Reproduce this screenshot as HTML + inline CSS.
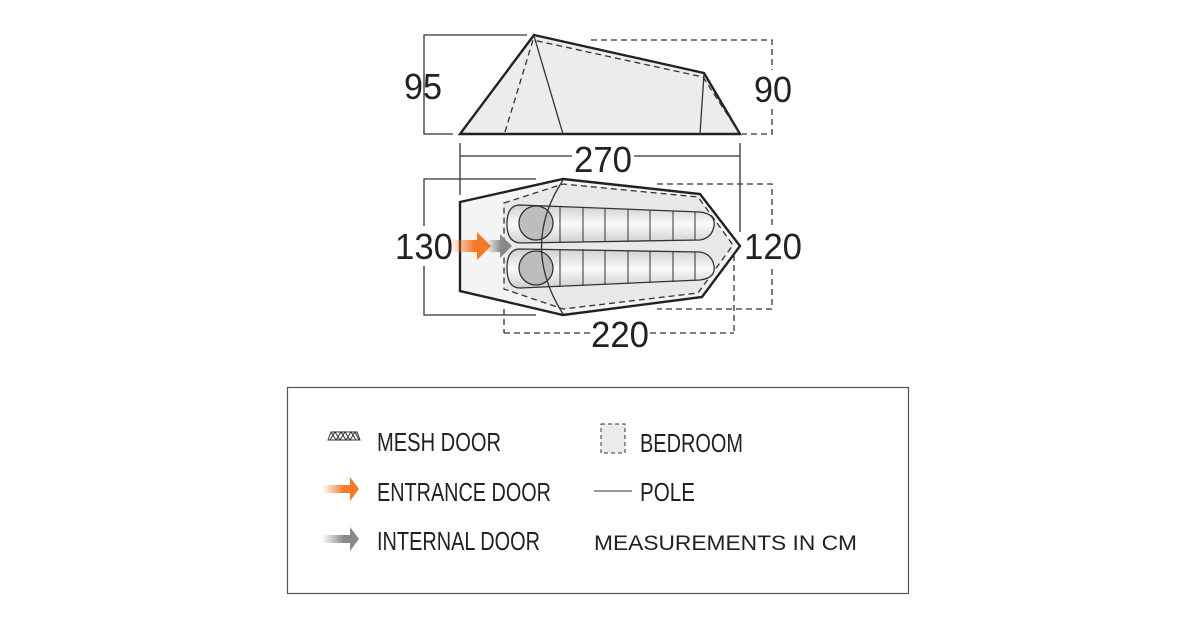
<!DOCTYPE html>
<html><head><meta charset="utf-8"><style>
html,body{margin:0;padding:0;background:#fff}
svg{display:block}
text{font-family:"Liberation Sans",sans-serif;fill:#222}
</style></head><body>
<svg width="1200" height="630" viewBox="0 0 1200 630" xmlns="http://www.w3.org/2000/svg">
<defs>
<linearGradient id="og" x1="0" x2="1"><stop offset="0" stop-color="#f47a2a" stop-opacity="0"/><stop offset="0.6" stop-color="#f47a2a"/></linearGradient>
<linearGradient id="gg" x1="0" x2="1"><stop offset="0" stop-color="#888" stop-opacity="0"/><stop offset="0.6" stop-color="#888"/></linearGradient>
<linearGradient id="bag" x1="0" y1="0" x2="0" y2="1"><stop offset="0" stop-color="#cfcfcf"/><stop offset="0.5" stop-color="#fafafa"/><stop offset="1" stop-color="#cfcfcf"/></linearGradient>
</defs>
<g fill="none" stroke="#333" stroke-width="1.3">
<polygon points="534,35 704,73 740,134 460,134" fill="#ececec" stroke="#222" stroke-width="2.4"/>
<polyline points="505,132 533,40 703,77 738,131" stroke-dasharray="6,4"/>
<line x1="534" y1="36" x2="563" y2="134"/>
<line x1="704" y1="74" x2="700" y2="134"/>
<polyline points="527,35 424,35 424,134 453,134"/>
<polyline points="591,40 772,40 772,134 742,134" stroke-dasharray="6,4"/>
<line x1="460" y1="143" x2="460" y2="195"/>
<line x1="740" y1="143" x2="740" y2="232"/>
<line x1="460" y1="156" x2="572" y2="156"/>
<line x1="634" y1="156" x2="740" y2="156"/>
<polygon points="460,202 563,179 700,194 740,246 702,297 563,315 460,291" fill="#f4f4f4" stroke="#222" stroke-width="2.4"/>
<polygon points="504,203 563,184 698,197 733,245 698,293 563,309 504,289" fill="#e8e8e8" stroke-dasharray="6,4"/>
<path d="M520,205 L700,212 Q716,214 714,226 Q712,238 700,240 L520,243 Q507,242 507,224 Q507,205 520,205Z" fill="url(#bag)"/>
<path d="M520,249 L700,252 Q712,254 714,266 Q716,278 700,280 L520,288 Q507,288 507,268 Q507,249 520,249Z" fill="url(#bag)"/>
<circle cx="536" cy="223" r="17" fill="#bdbdbd"/>
<circle cx="536" cy="268" r="17" fill="#bdbdbd"/>
<g stroke-width="1">
<line x1="560" y1="206" x2="560" y2="242"/><line x1="583" y1="207" x2="583" y2="242"/><line x1="605" y1="208" x2="605" y2="241"/><line x1="628" y1="209" x2="628" y2="241"/><line x1="650" y1="210" x2="650" y2="241"/><line x1="673" y1="211" x2="673" y2="240"/><line x1="695" y1="212" x2="695" y2="240"/>
<line x1="560" y1="249" x2="560" y2="287"/><line x1="583" y1="249" x2="583" y2="286"/><line x1="605" y1="250" x2="605" y2="285"/><line x1="628" y1="250" x2="628" y2="284"/><line x1="650" y1="251" x2="650" y2="283"/><line x1="673" y1="251" x2="673" y2="282"/><line x1="695" y1="252" x2="695" y2="281"/>
</g>
<path d="M563,180 Q520,246 563,314"/>
<polyline points="536,179 424,179 424,315 536,315"/>
<polyline points="657,184 772,184 772,309 657,309" stroke-dasharray="6,4"/>
<g stroke-dasharray="6,4">
<line x1="504" y1="309" x2="504" y2="333"/>
<line x1="734" y1="255" x2="734" y2="333"/>
<line x1="504" y1="333" x2="590" y2="333"/>
<line x1="650" y1="333" x2="734" y2="333"/>
</g>
</g>
<polygon points="450,240 477,240 477,232 491,246 477,260 477,252 450,252" fill="url(#og)"/>
<polygon points="486,240 500,240 500,234 512,246 500,258 500,252 486,252" fill="url(#gg)"/>
<rect x="398" y="226" width="52" height="40" fill="#fff"/>
<rect x="746" y="226" width="54" height="40" fill="#fff"/>
<rect x="748" y="70" width="50" height="38" fill="#fff"/>
<g font-size="36" text-anchor="middle">
<text x="423" y="99" textLength="38" lengthAdjust="spacingAndGlyphs">95</text>
<text x="773" y="102" textLength="38" lengthAdjust="spacingAndGlyphs">90</text>
<text x="603" y="172" textLength="58" lengthAdjust="spacingAndGlyphs">270</text>
<text x="424" y="259" textLength="58" lengthAdjust="spacingAndGlyphs">130</text>
<text x="773" y="259" textLength="58" lengthAdjust="spacingAndGlyphs">120</text>
<text x="620" y="347" textLength="58" lengthAdjust="spacingAndGlyphs">220</text>
</g>
<rect x="287.5" y="387.5" width="621" height="206" fill="#fff" stroke="#555" stroke-width="1.2"/>
<g stroke="#333" stroke-width="1" fill="none">
<polygon points="331,432 357,432 360,440 328,440"/>
<path d="M331,432 L336,440 L341,432 L346,440 L351,432 L356,440 M330,440 L335,432 L340,440 L345,432 L350,440 L355,432 L359,440"/>
<rect x="601" y="424" width="24" height="29" fill="#ebebeb" stroke-dasharray="4,3"/>
<line x1="594" y1="491" x2="632" y2="491"/>
</g>
<polygon points="322,485 350,485 350,477 359,489 350,501 350,493 322,493" fill="url(#og)"/>
<polygon points="322,535 350,535 350,527 359,539 350,551 350,543 322,543" fill="url(#gg)"/>
<g font-size="26">
<text x="377" y="451" textLength="124" lengthAdjust="spacingAndGlyphs">MESH DOOR</text>
<text x="640" y="452" textLength="103" lengthAdjust="spacingAndGlyphs">BEDROOM</text>
<text x="377" y="501" textLength="174" lengthAdjust="spacingAndGlyphs">ENTRANCE DOOR</text>
<text x="640" y="501" textLength="55" lengthAdjust="spacingAndGlyphs">POLE</text>
<text x="377" y="550" textLength="163" lengthAdjust="spacingAndGlyphs">INTERNAL DOOR</text>
</g>
<text x="594" y="550" font-size="21" textLength="263" lengthAdjust="spacingAndGlyphs">MEASUREMENTS IN CM</text>
</svg>
</body></html>
